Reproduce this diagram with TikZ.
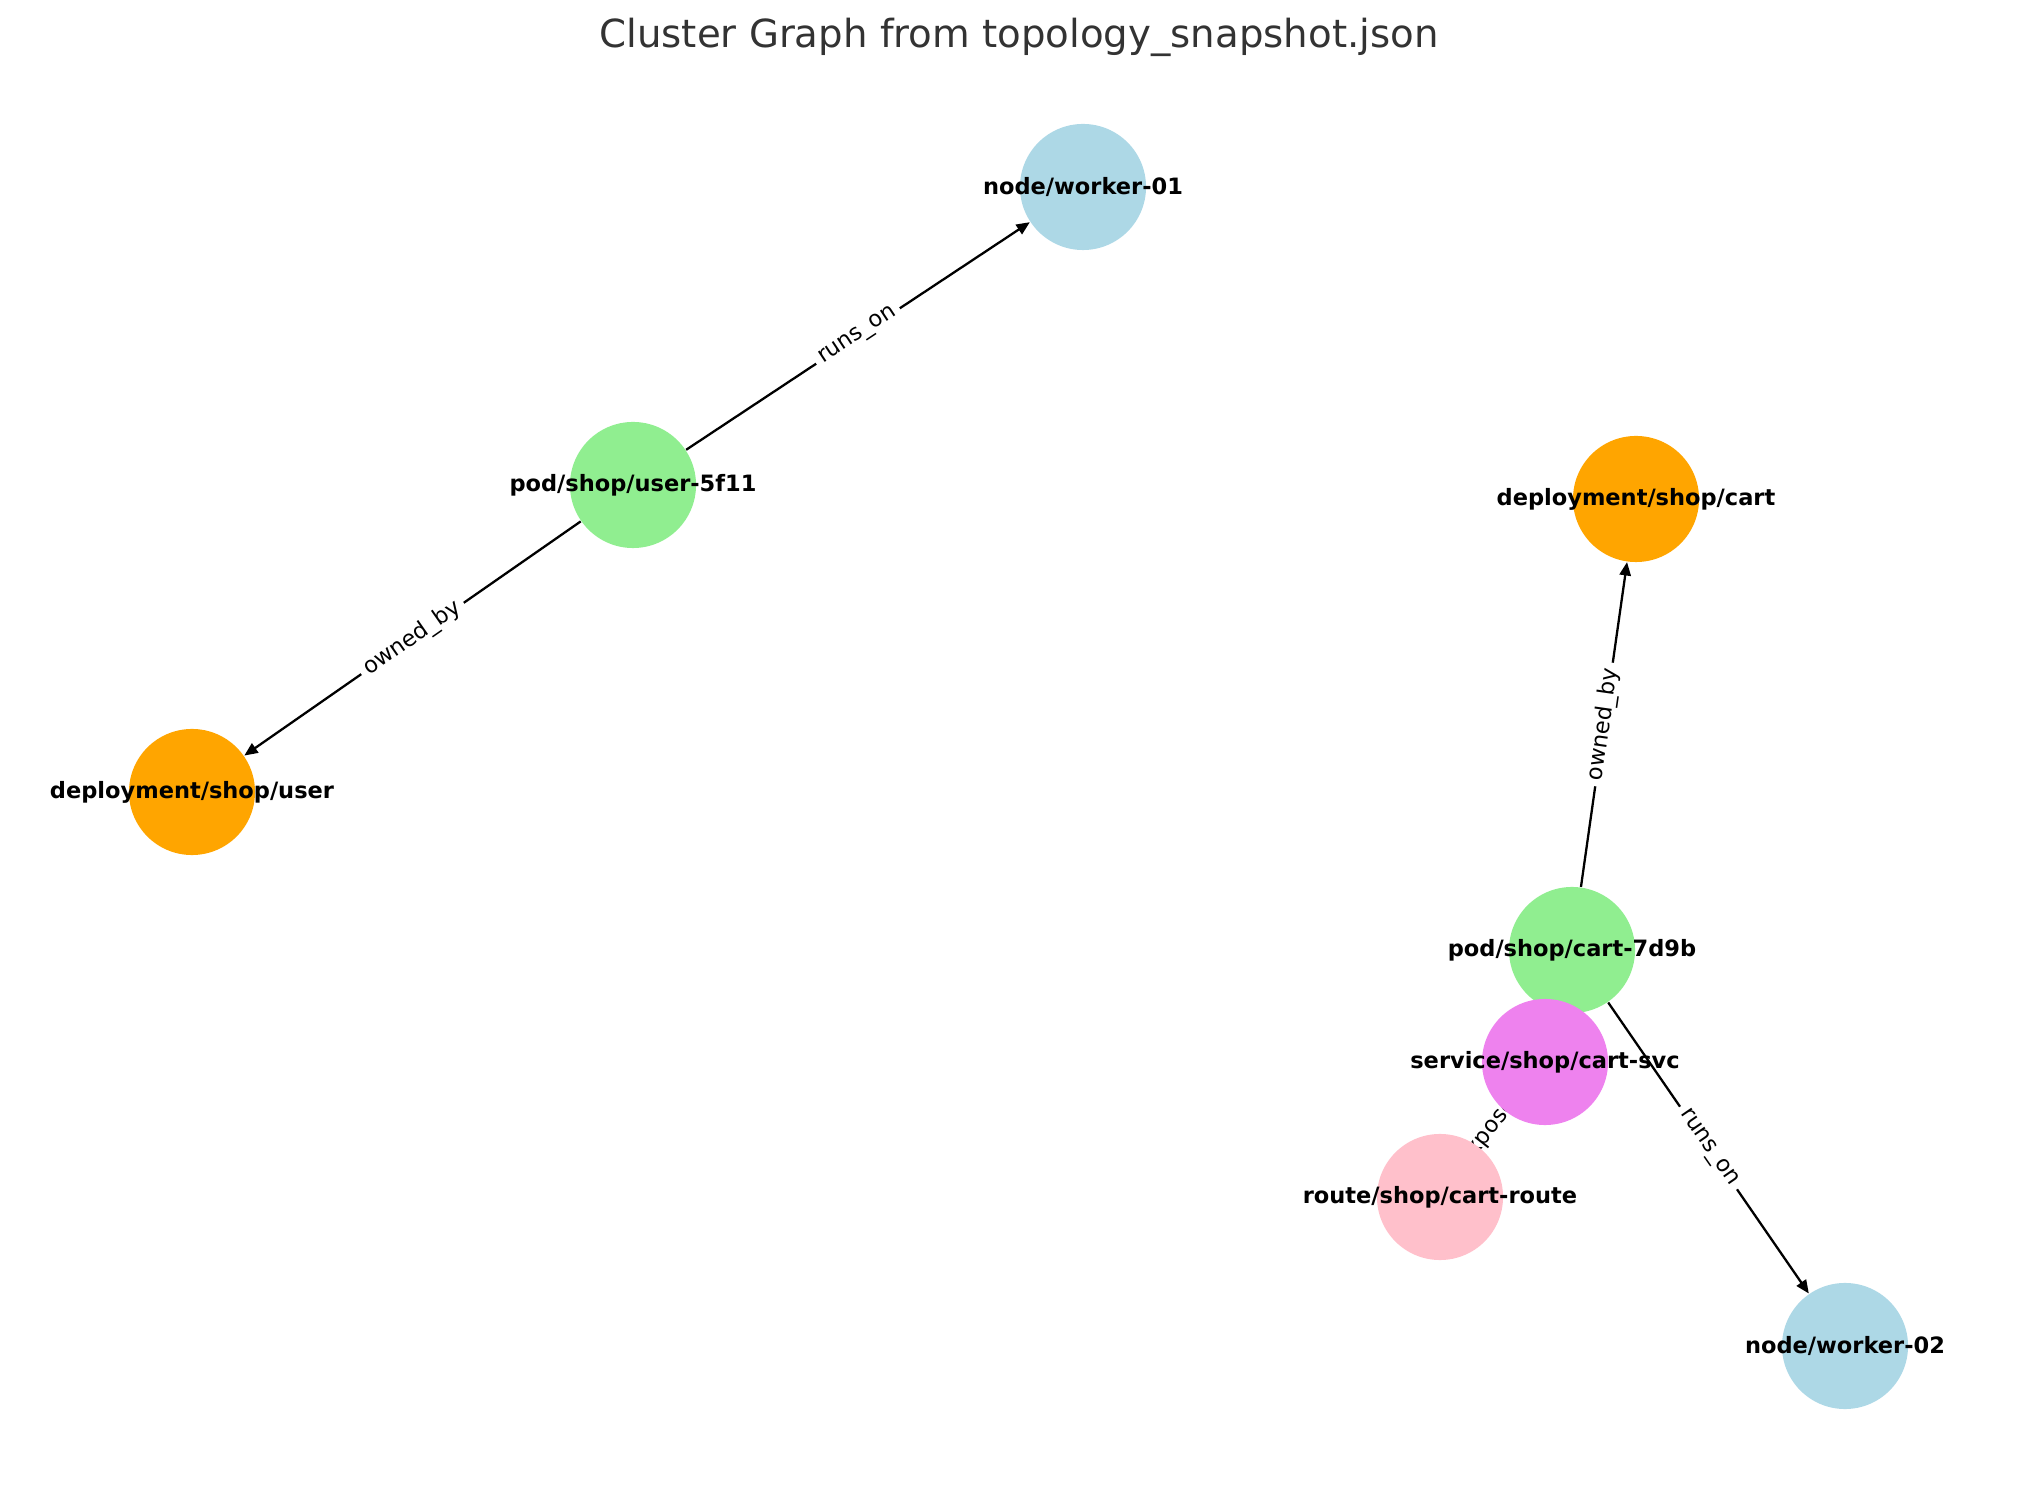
\documentclass[tikz,border=0pt]{standalone}
\usepackage{fontspec}
\setmainfont{DejaVu Sans}
\usepackage{tikz}
\usetikzlibrary{arrows.meta}
\tikzset{>={Triangle[length=3.8pt,width=3.2pt]}}

\definecolor{nodeblue}{HTML}{ADD8E6}
\definecolor{podgreen}{HTML}{90EE90}
\definecolor{deporange}{HTML}{FFA500}
\definecolor{svcviolet}{HTML}{EE82EE}
\definecolor{routepink}{HTML}{FFC0CB}
\definecolor{titlegray}{HTML}{333333}

\pgfdeclarelayer{edges}
\pgfsetlayers{edges,main}

\tikzset{
  knode/.style={circle,minimum size=1.26cm,inner sep=0pt,draw=none},
  ktext/.style={font=\fontsize{6.4}{7.5}\selectfont\bfseries,inner sep=0pt},
  kedge/.style={->,line width=0.65pt},
  elabel/.style={midway,sloped,fill=white,rounded corners=2pt,inner sep=1.6pt,
    font=\fontsize{6.4}{7.5}\selectfont},
}

\begin{document}
\begin{tikzpicture}[x=0.01cm,y=-0.01cm]
\useasboundingbox (0,0) rectangle (2039,1486);

\node[font=\fontsize{11}{13}\selectfont,text=titlegray] (title) at (1019,37) {Cluster Graph from topology\_snapshot.json};

    \node[knode,fill=nodeblue,label={[ktext]center:node/worker-01}] (w1) at (1083,187) {};
    \node[knode,fill=podgreen,label={[ktext]center:pod/shop/user-5f11}] (pu) at (633,485) {};
    \node[knode,fill=deporange,label={[ktext]center:deployment/shop/user}] (du) at (192,792) {};
    \node[knode,fill=deporange,label={[ktext]center:deployment/shop/cart}] (dc) at (1636,499) {};
    \node[knode,fill=podgreen,label={[ktext]center:pod/shop/cart-7d9b}] (pc) at (1572,950) {};
    \node[knode,fill=svcviolet,label={[ktext]center:service/shop/cart-svc}] (sv) at (1545,1062) {};
    \node[knode,fill=routepink,label={[ktext]center:route/shop/cart-route}] (rt) at (1440,1197) {};
    \node[knode,fill=nodeblue,label={[ktext]center:node/worker-02}] (w2) at (1845,1346) {};

\begin{pgfonlayer}{edges}
    \draw[kedge] (pu) -- (w1) node[elabel]{runs\_on};
    \draw[kedge] (pu) -- (du) node[elabel]{owned\_by};
    \draw[kedge] (pc) -- (dc) node[elabel]{owned\_by};
    \draw[kedge] (pc) -- (w2) node[elabel]{runs\_on};
    \draw[kedge] (rt) -- (sv) node[elabel]{exposes};
\end{pgfonlayer}
\end{tikzpicture}
\end{document}
